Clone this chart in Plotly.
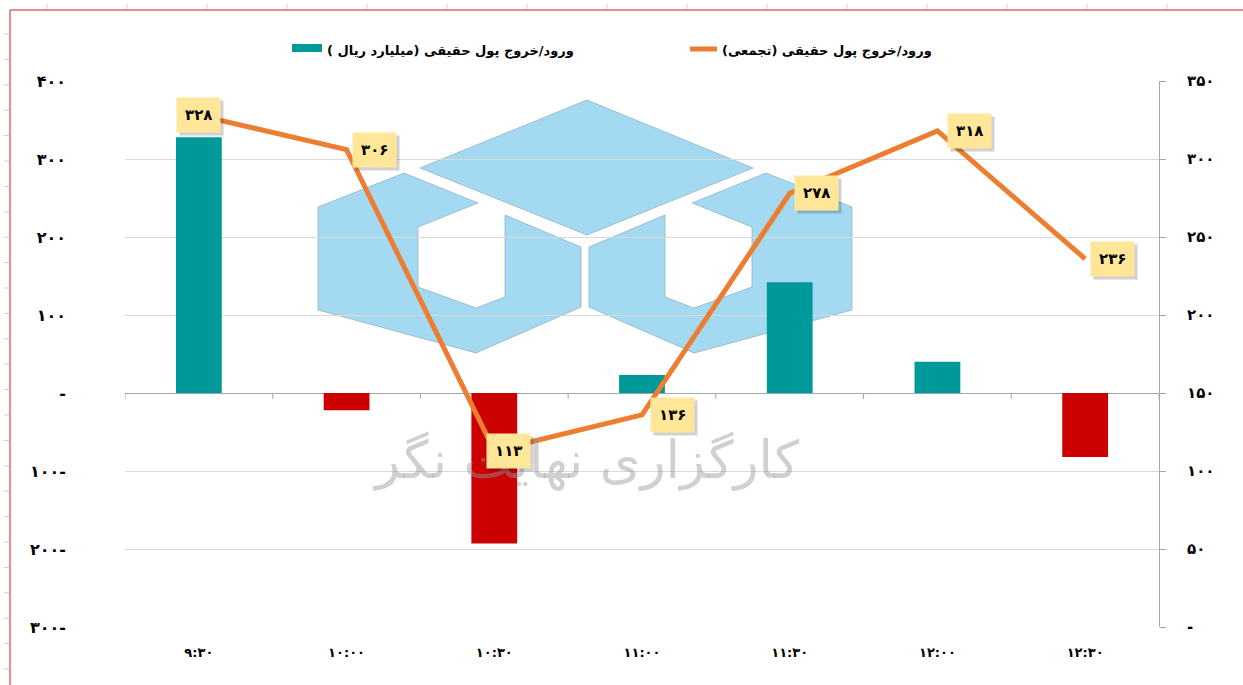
import plotly.graph_objects as go

# ---------------- data ----------------
TIMES = ["9:30", "10:00", "10:30", "11:00", "11:30", "12:00", "12:30"]
FLOW = [328, -22, -193, 23, 142, 40, -82]            # bars, left axis
CUMULATIVE = [328, 306, 113, 136, 278, 318, 236]     # line, right axis
LEFT_TICKS = [-300, -200, -100, 0, 100, 200, 300, 400]
RIGHT_TICKS = [0, 50, 100, 150, 200, 250, 300, 350]
BAR_NAME = "ورود/خروج پول حقیقی (میلیارد ریال )"
LINE_NAME = "ورود/خروج پول حقیقی (تجمعی)"
WATERMARK = "کارگزاری نهایت نگر"

# ---------------- helpers ----------------
FA = str.maketrans("0123456789", "۰۱۲۳۴۵۶۷۸۹")


def fa(s):
    return str(s).translate(FA)


def tick_text(v):
    if v == 0:
        return "-"
    return fa(abs(v)) + ("-" if v < 0 else "")


def rtl(s):
    return "\u202b" + s + "\u202c"


W, H = 1243, 685
ML, MR, MT, MB = 125, 84, 81, 58
PW, PH = W - ML - MR, H - MT - MB


def px(x):
    return (x - ML) / PW


def py(y):
    return (H - MB - y) / PH


FONT = "DejaVu Sans"
TEAL = "#009999"
RED = "#CC0000"
ORANGE = "#ED7D31"
LABEL_BG = "#FFE699"
LABEL_XSHIFT = [0, 28, 14, 30, 27, 32, 27]

xcats = [fa(t) for t in TIMES]

fig = go.Figure()
fig.add_trace(go.Bar(
    x=xcats, y=FLOW, yaxis="y",
    marker=dict(color=[TEAL if v >= 0 else RED for v in FLOW], line=dict(width=0)),
    width=0.31, name=BAR_NAME, showlegend=False, hoverinfo="skip",
))
fig.add_trace(go.Scatter(
    x=xcats, y=CUMULATIVE, yaxis="y2", mode="lines",
    line=dict(color=ORANGE, width=5), name=LINE_NAME, showlegend=False,
))

shapes = []
# ---- watermark logo (light blue) ----
LOGO_FILL = "#98D6F0"
LOGO_LINE = "rgba(130,160,175,0.7)"
diamond = [(420, 168), (587, 100), (753, 168), (587, 235)]
left_u = [(318, 207), (404, 173), (478, 203), (418, 227), (418, 287), (476, 308),
          (505, 297), (505, 215), (581, 247), (581, 307), (476, 353), (318, 310)]
right_u = [(1170 - x, y) for (x, y) in left_u]
for poly in (diamond, left_u, right_u):
    path = "M " + " L ".join(f"{px(x):.5f},{py(y):.5f}" for x, y in poly) + " Z"
    shapes.append(dict(type="path", path=path, xref="paper", yref="paper",
                       fillcolor=LOGO_FILL, line=dict(color=LOGO_LINE, width=1),
                       opacity=0.88, layer="below"))

# ---- category boundary ticks on the zero line ----
for i in range(len(TIMES) + 1):
    shapes.append(dict(type="line", xref="x", yref="paper", x0=i - 0.5, x1=i - 0.5,
                       y0=py(393), y1=py(399), line=dict(color="#A6A6A6", width=1)))

# ---- page frame (red) and ruler ticks ----
shapes.append(dict(type="line", xref="paper", yref="paper", x0=px(10), x1=px(10),
                   y0=py(10), y1=py(H + 5), line=dict(color="#E06666", width=1.5)))
shapes.append(dict(type="line", xref="paper", yref="paper", x0=px(10), x1=px(W + 5),
                   y0=py(10), y1=py(10), line=dict(color="#E06666", width=1.5)))
xt = 47
while xt < W:
    shapes.append(dict(type="line", xref="paper", yref="paper", x0=px(xt), x1=px(xt),
                       y0=py(4), y1=py(9), line=dict(color="#CCCCCC", width=1)))
    xt += 80
yt = 34
while yt < H:
    shapes.append(dict(type="line", xref="paper", yref="paper", x0=px(4), x1=px(9),
                       y0=py(yt), y1=py(yt), line=dict(color="#CCCCCC", width=1)))
    yt += 25.4

# ---- manual legend ----
shapes.append(dict(type="rect", xref="paper", yref="paper", x0=px(292), x1=px(322),
                   y0=py(52), y1=py(44), fillcolor=TEAL, line=dict(width=0)))
shapes.append(dict(type="line", xref="paper", yref="paper", x0=px(690), x1=px(717),
                   y0=py(49), y1=py(49), line=dict(color=ORANGE, width=5)))

annotations = []
annotations.append(dict(xref="paper", yref="paper", x=px(325), y=py(51),
                        xanchor="left", yanchor="middle", showarrow=False,
                        text="<b>" + rtl(BAR_NAME) + "</b>",
                        font=dict(family=FONT, size=13, color="#000000")))
annotations.append(dict(xref="paper", yref="paper", x=px(720), y=py(51),
                        xanchor="left", yanchor="middle", showarrow=False,
                        text="<b>" + rtl(LINE_NAME) + "</b>",
                        font=dict(family=FONT, size=13, color="#000000")))
# watermark text
annotations.append(dict(xref="paper", yref="paper", x=px(585), y=py(460),
                        xanchor="center", yanchor="middle", showarrow=False,
                        text=rtl(WATERMARK),
                        font=dict(family=FONT, size=52, color="rgba(150,150,150,0.45)")))

# data labels (shadow then box)
for cat, v, dx in zip(xcats, CUMULATIVE, LABEL_XSHIFT):
    annotations.append(dict(x=cat, y=v, xref="x", yref="y2", showarrow=False,
                            xshift=dx + 3, yshift=-3, text="<b>" + fa(v) + "</b>",
                            font=dict(family=FONT, size=15, color="rgba(0,0,0,0)"),
                            bgcolor="rgba(0,0,0,0.18)", borderpad=8))
    annotations.append(dict(x=cat, y=v, xref="x", yref="y2", showarrow=False,
                            xshift=dx, text="<b>" + fa(v) + "</b>",
                            font=dict(family=FONT, size=15, color="#000000"),
                            bgcolor=LABEL_BG, borderpad=8))

fig.update_layout(
    width=W, height=H,
    margin=dict(l=ML, r=MR, t=MT, b=MB, pad=0),
    paper_bgcolor="white", plot_bgcolor="white",
    font=dict(family=FONT, color="#000000"),
    xaxis=dict(
        type="category", range=[-0.5, 6.5], showline=False, showgrid=False,
        zeroline=False, ticks="", ticklabelstandoff=16,
        tickfont=dict(family=FONT, size=13, color="#000000", weight="bold"),
    ),
    yaxis=dict(
        range=[LEFT_TICKS[0], LEFT_TICKS[-1]], tickvals=LEFT_TICKS,
        ticktext=[tick_text(v) for v in LEFT_TICKS],
        showgrid=True, gridcolor="#D9D9D9", gridwidth=1,
        zeroline=True, zerolinecolor="#A6A6A6", zerolinewidth=1,
        showline=False, ticks="", ticklabelstandoff=58,
        tickfont=dict(family=FONT, size=16, color="#000000", weight="bold"),
    ),
    yaxis2=dict(
        range=[RIGHT_TICKS[0], RIGHT_TICKS[-1]], tickvals=RIGHT_TICKS,
        ticktext=[tick_text(v) for v in RIGHT_TICKS],
        overlaying="y", side="right", anchor="x", showgrid=False, zeroline=False,
        showline=True, linecolor="#A6A6A6", linewidth=1,
        ticks="outside", ticklen=6, tickcolor="#A6A6A6", ticklabelstandoff=18,
        tickfont=dict(family=FONT, size=15, color="#000000", weight="bold"),
    ),
    shapes=shapes,
    annotations=annotations,
    showlegend=False,
)

fig.write_html("out.html")
